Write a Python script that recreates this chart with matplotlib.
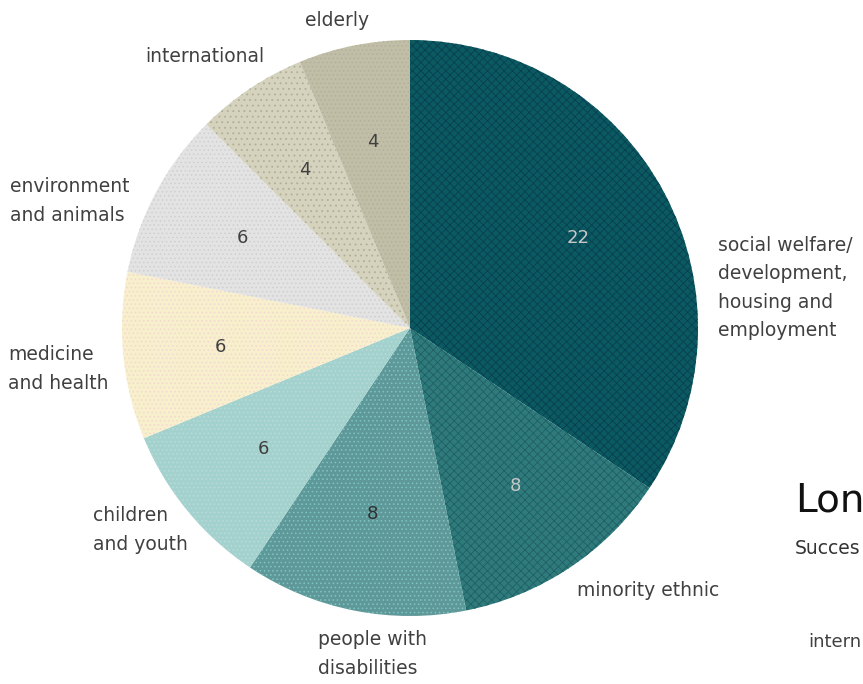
import matplotlib
matplotlib.use("Agg")
import matplotlib.pyplot as plt

categories = ["social welfare/\ndevelopment,\nhousing and\nemployment", "minority ethnic",
              "people with\ndisabilities", "children\nand youth", "medicine\nand health",
              "environment\nand animals", "international", "elderly"]
values = [22, 8, 8, 6, 6, 6, 4, 4]
colors = ["#0b5a5f", "#2f7b7b", "#5f9898", "#a3d1cd", "#f8efcc", "#e3e3e3", "#d5d3bd", "#c0bea6"]
hatch_colors = ["#083f55", "#1f5f66", "#7fc4c4", "#b9dcd8", "#f2d8cf", "#cfcfcf", "#b0ae98", "#b3b09a"]
hatches = ["xxxx", "xxxx", "....", "....", "....", "....", "...", "...."]
number_colors = ["#c8c8c8", "#c8c8c8", "#303030", "#404040", "#404040", "#404040", "#404040", "#404040"]

# outer label positions (data coords, radius = 1), left-aligned
label_pos = [(1.069, 0.139), (0.580, -0.910), (-0.319, -1.132), (-1.101, -0.701),
             (-1.396, -0.142), (-1.389, 0.441), (-0.920, 0.941), (-0.365, 1.069)]

plt.rcParams['font.family'] = ['DejaVu Sans']
plt.rcParams['hatch.linewidth'] = 0.6

fig = plt.figure(figsize=(8.63, 6.84), dpi=100)
R = 288
cx, cy = 410, 328
ax = fig.add_axes([(cx - R) / 863, (684 - cy - R) / 684, 2 * R / 863, 2 * R / 684])
total = sum(values)
wedges, texts, autotexts = ax.pie(values, colors=colors, startangle=90, counterclock=False,
                                  autopct=lambda p: f"{round(p * total / 100)}", pctdistance=0.66,
                                  wedgeprops=dict(linewidth=0),
                                  textprops=dict(fontsize=13))
for w, h, hc in zip(wedges, hatches, hatch_colors):
    w.set_hatch(h)
    w.set_edgecolor(hc)
    w.set_linewidth(0)
for t, c in zip(autotexts, number_colors):
    t.set_color(c)
ax.set_xlim(-1, 1)
ax.set_ylim(-1, 1)
ax.set_aspect("equal")
ax.axis("off")

for lab, (x, y) in zip(categories, label_pos):
    ax.text(x, y, lab, ha="left", va="center", fontsize=13.5, color="#404040",
            linespacing=1.62, clip_on=False)

# fragments of the neighbouring chart, cut off at the right edge in the reference
fig.text(795 / 863, 1 - 500 / 684, "Lon", fontsize=28, color="#111111", va="center", ha="left")
fig.text(795 / 863, 1 - 548 / 684, "Succes", fontsize=13.5, color="#333333", va="center", ha="left")
fig.text(808 / 863, 1 - 642 / 684, "intern", fontsize=13, color="#404040", va="center", ha="left")

fig.savefig("out.png", dpi=100)
